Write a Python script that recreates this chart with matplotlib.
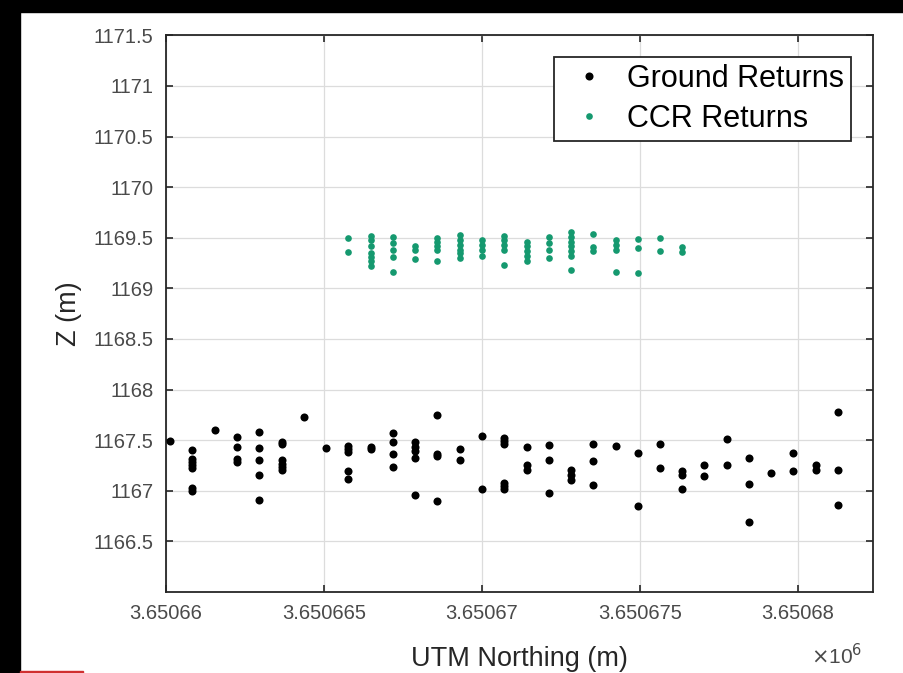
import numpy as np
import matplotlib
matplotlib.use("Agg")
import matplotlib.pyplot as plt
from matplotlib.ticker import FuncFormatter

# along-track sample columns (UTM northing, m)
col_x = [3650660.13, 3650660.83, 3650661.55, 3650662.25, 3650662.95, 3650663.66,
         3650664.37, 3650665.08, 3650665.77, 3650666.48, 3650667.18, 3650667.89,
         3650668.59, 3650669.31, 3650670.01, 3650670.70, 3650671.42, 3650672.13,
         3650672.83, 3650673.53, 3650674.24, 3650674.94, 3650675.64, 3650676.35,
         3650677.05, 3650677.76, 3650678.45, 3650679.17, 3650679.86, 3650680.58,
         3650681.28]

# ground return heights per column
ground_z = [
    [1167.49],
    [1167.40, 1167.31, 1167.28, 1167.25, 1167.22, 1167.03, 1167.00],
    [1167.60],
    [1167.53, 1167.43, 1167.31, 1167.28],
    [1167.58, 1167.42, 1167.30, 1167.16, 1166.91],
    [1167.48, 1167.46, 1167.30, 1167.26, 1167.23, 1167.21],
    [1167.73],
    [1167.42],
    [1167.44, 1167.41, 1167.38, 1167.20, 1167.12],
    [1167.43, 1167.41],
    [1167.57, 1167.48, 1167.36, 1167.23],
    [1167.48, 1167.43, 1167.39, 1167.32, 1166.96],
    [1167.75, 1167.36, 1167.34, 1166.90],
    [1167.41, 1167.30],
    [1167.54, 1167.02],
    [1167.52, 1167.49, 1167.46, 1167.08, 1167.05, 1167.02],
    [1167.43, 1167.25, 1167.21],
    [1167.45, 1167.30, 1166.98],
    [1167.21, 1167.16, 1167.11],
    [1167.46, 1167.29, 1167.06],
    [1167.44],
    [1167.37, 1166.85],
    [1167.46, 1167.22],
    [1167.20, 1167.16, 1167.02],
    [1167.25, 1167.15],
    [1167.51, 1167.25],
    [1167.32, 1167.07, 1166.69],
    [1167.18],
    [1167.37, 1167.20],
    [1167.25, 1167.21],
    [1167.78, 1167.21, 1166.86],
]

# CCR returns, first column index they start at
ccr_start = 8
ccr_z = [
    [1169.50, 1169.36],
    [1169.52, 1169.48, 1169.42, 1169.35, 1169.31, 1169.27, 1169.22],
    [1169.51, 1169.45, 1169.38, 1169.31, 1169.16],
    [1169.42, 1169.38, 1169.29],
    [1169.50, 1169.46, 1169.42, 1169.38, 1169.27],
    [1169.53, 1169.48, 1169.43, 1169.38, 1169.35, 1169.30],
    [1169.48, 1169.43, 1169.38, 1169.32],
    [1169.52, 1169.48, 1169.43, 1169.38, 1169.23],
    [1169.46, 1169.42, 1169.37, 1169.32, 1169.27],
    [1169.51, 1169.45, 1169.38, 1169.30],
    [1169.56, 1169.51, 1169.46, 1169.42, 1169.37, 1169.32, 1169.18],
    [1169.54, 1169.41, 1169.37],
    [1169.48, 1169.43, 1169.38, 1169.16],
    [1169.49, 1169.40, 1169.15],
    [1169.50, 1169.37],
    [1169.41, 1169.36],
]

x_ticks = [3650660, 3650665, 3650670, 3650675, 3650680]
y_ticks = [1166.5, 1167, 1167.5, 1168, 1168.5, 1169, 1169.5, 1170, 1170.5, 1171, 1171.5]


def flatten(cols, zs, start=0):
    xs, ys = [], []
    for i, z in enumerate(zs):
        xs += [cols[start + i]] * len(z)
        ys += z
    return np.array(xs), np.array(ys)


plt.rcParams['font.family'] = ['Liberation Sans', 'DejaVu Sans']
txt = '#4a4a4a'
edge = '#262626'

fig = plt.figure(figsize=(9.04, 6.73), dpi=100)
ax = fig.add_axes([0.1836, 0.1204, 0.7818, 0.8271])

gx, gy = flatten(col_x, ground_z)
cx, cy = flatten(col_x, ccr_z, ccr_start)

ax.plot(gx, gy, 'o', color='black', ms=5.8, mew=0, label='Ground Returns', zorder=3)
ax.plot(cx, cy, 'o', color='#15996f', ms=4.8, mew=0, label='CCR Returns', zorder=3)

ax.set_xlim(3650660, 3650682.38)
ax.set_ylim(1166, 1171.5)
ax.set_xticks(x_ticks)
ax.set_yticks(y_ticks)
ax.xaxis.set_major_formatter(FuncFormatter(lambda v, p: '{:.7g}'.format(v / 1e6)))
ax.yaxis.set_major_formatter(FuncFormatter(lambda v, p: '{:g}'.format(v)))
ax.grid(True, color='#dcdcdc', lw=0.9)
ax.set_axisbelow(True)
ax.tick_params(direction='in', top=True, right=True, length=5, width=1.2,
               color=edge, labelsize=14.5, labelcolor=txt, pad=9)
for s in ax.spines.values():
    s.set_color(edge)
    s.set_linewidth(1.3)

ax.set_xlabel('UTM Northing (m)', fontsize=19.5, color=edge, labelpad=16)
ax.set_ylabel('Z (m)', fontsize=19.5, color=edge, labelpad=8)
ax.text(0.985, -0.129, r'$\times$10$^{6}$', transform=ax.transAxes, ha='right',
        va='baseline', fontsize=15, color=txt)

leg = ax.legend(loc='upper right', bbox_to_anchor=(0.969, 0.961), fontsize=22,
                frameon=True, fancybox=False, framealpha=1, edgecolor=edge,
                handletextpad=0.33, borderpad=0.22, labelspacing=0.34,
                handlelength=1.84, borderaxespad=0)
leg.get_frame().set_linewidth(1.3)

# screenshot margins: black strip left and top, red speck bottom-left
fig.patches.append(plt.Rectangle((0, 0), 20 / 904, 1, transform=fig.transFigure,
                                 color='black', zorder=10))
fig.patches.append(plt.Rectangle((0, 1 - 12 / 673), 1, 12 / 673,
                                 transform=fig.transFigure, color='black', zorder=10))
fig.patches.append(plt.Rectangle((20 / 904, 0), 63 / 904, 2 / 673,
                                 transform=fig.transFigure, color='#d03030', zorder=10))

fig.savefig('out.png', dpi=100)
plt.close(fig)
